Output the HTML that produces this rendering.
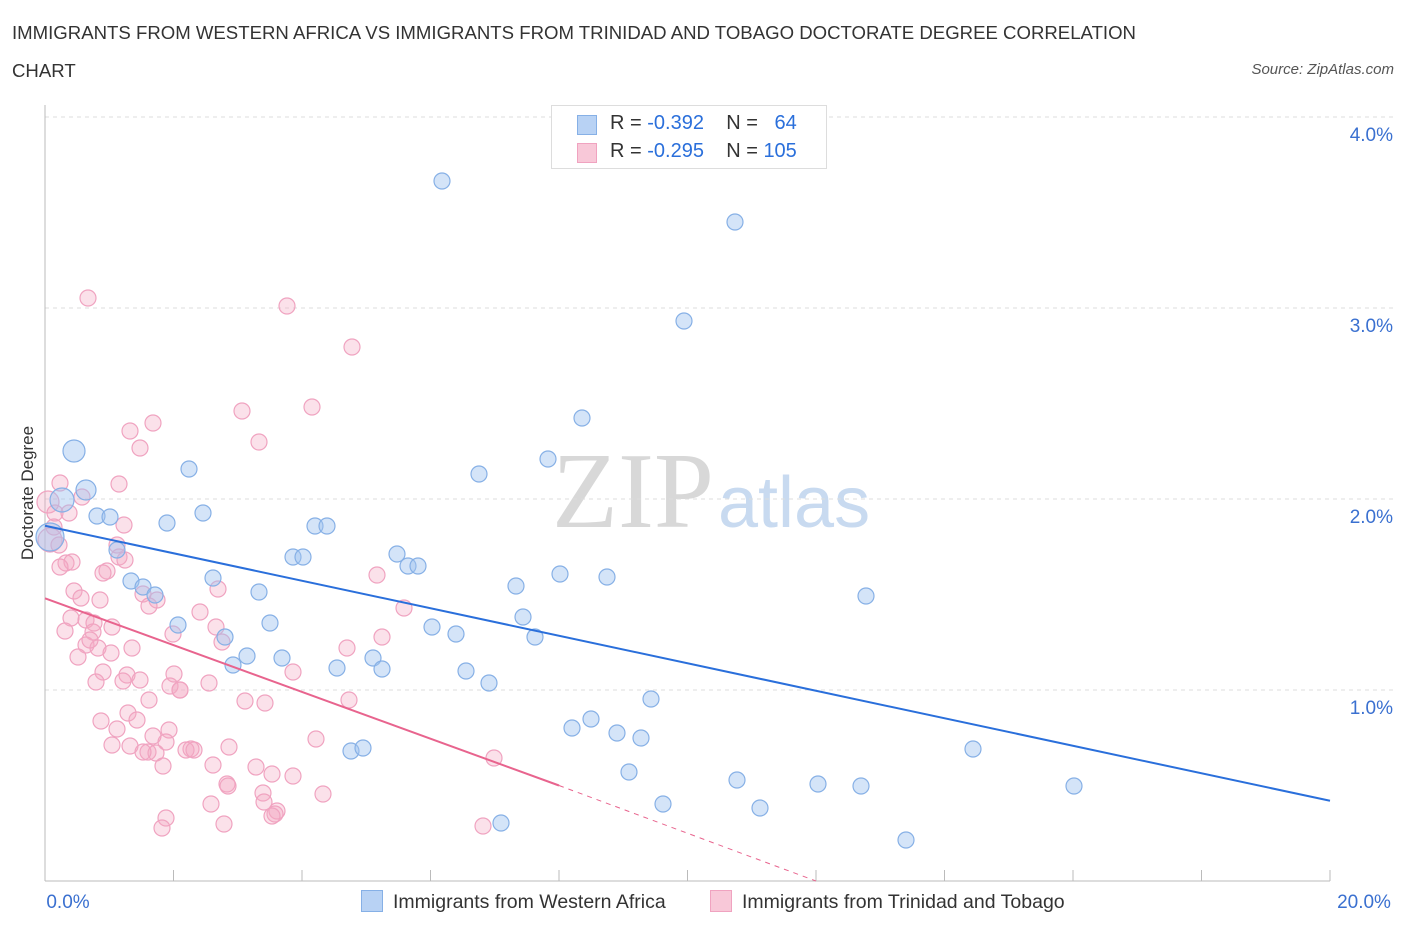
<!DOCTYPE html>
<html><head><meta charset="utf-8"><style>
body{margin:0;background:#fff;font-family:"Liberation Sans",sans-serif;}
#c{position:relative;width:1406px;height:930px;overflow:hidden;}
.t{position:absolute;white-space:nowrap;}
</style></head><body>
<div id="c">
<div class="t" style="left:12px;top:14px;font-size:18.6px;color:#333;line-height:38px;">IMMIGRANTS FROM WESTERN AFRICA VS IMMIGRANTS FROM TRINIDAD AND TOBAGO DOCTORATE DEGREE CORRELATION<br>CHART</div>
<div class="t" style="right:12px;top:61px;font-size:15px;color:#555;font-style:italic;">Source: ZipAtlas.com</div>
<svg id="s" width="1406" height="930" style="position:absolute;left:0;top:0"></svg>
</div>
<script>
const blueXpx=[442,735,684,582,74,548,189,479,86,62,203,97,110,167,315,327,50,117,293,303,397,408,418,560,607,213,131,143,155,259,866,516,523,178,270,432,225,456,535,247,233,282,373,337,382,466,489,651,591,572,617,641,351,363,973,629,737,818,861,1074,663,760,501,906];
const blueYpx=[181,222,321,418,451,459,469,474,490,500,513,516,517,523,526,526,537,550,557,557,554,566,566,574,577,578,581,587,595,592,596,586,617,625,623,627,637,634,637,656,665,658,658,668,669,671,683,699,719,728,733,738,751,748,749,772,780,784,786,786,804,808,823,840];
const blueX=blueXpx.map(p=>(p-45)/64.25);
const blueY=blueYpx.map(p=>(881-p)/191);
const blueR=[8,8,8,8,11,8,8,8,10,12,8,8,8,8,8,8,14];
const pinkXpx=[88,287,352,312,242,153,130,140,259,60,119,82,48,55,69,124,54,50,59,117,119,66,72,60,107,103,377,218,74,81,143,157,149,404,200,71,86,94,112,65,93,173,216,382,222,86,98,132,347,111,78,293,174,103,127,123,96,209,170,180,149,245,265,349,128,101,137,169,117,153,316,166,191,148,112,130,229,156,143,186,194,163,213,256,494,272,293,227,228,263,323,211,264,277,166,275,272,162,224,483,90,100,125,180,140];
const pinkYpx=[298,306,347,407,411,423,431,448,442,483,484,497,502,513,513,525,527,540,545,545,557,563,562,567,571,573,575,589,591,598,594,600,606,608,612,618,620,623,627,631,632,634,627,637,642,645,648,648,648,653,657,672,674,672,675,681,682,683,686,690,700,701,703,700,713,721,720,730,729,736,739,742,749,752,745,746,747,753,752,750,750,766,765,767,758,774,776,784,786,793,794,804,802,811,818,814,816,828,824,826,640,600,560,690,680];
const pinkX=pinkXpx.map(p=>(p-45)/64.25);
const pinkY=pinkYpx.map(p=>(881-p)/191);
const pinkR=[8,8,8,8,8,8,8,8,8,8,8,8,11,8,8,8,8,12];
const xTicks=[0,2,4,6,8,10,12,14,16,18,20];
const yTicks=[1,2,3,4];
const blueLine=[[0,1.86],[20,0.42]];
const pinkLine=[[0,1.48],[8,0.50]];
const pinkDash=[[8,0.50],[12,0]];
const X=v=>45+v*64.25, Y=v=>881-v*191;
const s=document.getElementById('s'),NS='http://www.w3.org/2000/svg';
function mk(t,a,p){const e=document.createElementNS(NS,t);for(const k in a)e.setAttribute(k,a[k]);(p||s).appendChild(e);return e;}
let w=mk('text',{x:633,y:527,'font-size':108,'font-family':'Liberation Serif',fill:'#d8d8d8','text-anchor':'middle'});w.textContent='ZIP';


let w2=mk('text',{x:718,y:527,'font-size':72,'font-family':'Liberation Sans',fill:'#c8daf0'});w2.textContent='atlas';


yTicks.forEach(v=>{const g=mk('line',{x1:45,x2:1395,y1:Y(v),y2:Y(v),stroke:'#ddd','stroke-dasharray':'4,4'});


const t=mk('text',{x:1393,y:Y(v)+24,'font-size':19,fill:'#3a70d0','text-anchor':'end'});t.textContent=v.toFixed(1)+'%';

});
mk('line',{x1:45,x2:45,y1:105,y2:881,stroke:'#bbb'});
mk('line',{x1:45,x2:1330,y1:881,y2:881,stroke:'#bbb'});
xTicks.forEach(v=>{const l=mk('line',{x1:X(v),x2:X(v),y1:881,y2:870,stroke:'#bbb'});

});
[[0,'0.0%',68],[20,'20.0%',1364]].forEach(a=>{const t=mk('text',{x:a[2],y:908,'font-size':19,fill:'#3a70d0','text-anchor':'middle'});t.textContent=a[1];

});
const yt=mk('text',{x:0,y:0,'font-size':17,fill:'#333','text-anchor':'middle',transform:'translate(33,493) rotate(-90)'});yt.textContent='Doctorate Degree';


pinkX.forEach((v,i)=>{const c=mk('circle',{cx:X(v),cy:Y(pinkY[i]),r:pinkR[i]||8,fill:'rgba(244,170,196,0.35)',stroke:'#f0a3c0','stroke-width':1.2});

});
blueX.forEach((v,i)=>{const c=mk('circle',{cx:X(v),cy:Y(blueY[i]),r:blueR[i]||8,fill:'rgba(160,196,240,0.45)',stroke:'#86b0e6','stroke-width':1.2});

});
const bl=mk('line',{x1:X(blueLine[0][0]),y1:Y(blueLine[0][1]),x2:X(blueLine[1][0]),y2:Y(blueLine[1][1]),stroke:'#2a6fdb','stroke-width':2});


const pl=mk('line',{x1:X(pinkLine[0][0]),y1:Y(pinkLine[0][1]),x2:X(pinkLine[1][0]),y2:Y(pinkLine[1][1]),stroke:'#e8648e','stroke-width':2});


const pd=mk('line',{x1:X(pinkDash[0][0]),y1:Y(pinkDash[0][1]),x2:X(pinkDash[1][0]),y2:Y(pinkDash[1][1]),stroke:'#e8648e','stroke-width':1,'stroke-dasharray':'5,5'});


</script>
<div class="t" style="left:551px;top:105px;width:274px;height:62px;border:1px solid #ddd;background:#fff;font-size:20px;">
 <div style="position:absolute;left:25px;top:9px;width:18px;height:18px;background:#b8d2f4;border:1px solid #86b0e6"></div>
 <div class="t" style="left:58px;top:6px;color:#333">R = <span style="color:#2a6fdb">-0.392</span>&nbsp;&nbsp;&nbsp; N = &nbsp;&nbsp;<span style="color:#2a6fdb">64</span></div>
 <div style="position:absolute;left:25px;top:37px;width:18px;height:18px;background:#f8c8d8;border:1px solid #f0a3c0"></div>
 <div class="t" style="left:58px;top:34px;color:#333">R = <span style="color:#2a6fdb">-0.295</span>&nbsp;&nbsp;&nbsp; N = <span style="color:#2a6fdb">105</span></div>
</div>
<div class="t" style="left:361px;top:890px;font-size:19.5px;color:#333;">
 <span style="display:inline-block;width:20px;height:20px;background:#b8d2f4;border:1px solid #86b0e6;vertical-align:-4px;margin-right:10px"></span>Immigrants from Western Africa</div>
<div class="t" style="left:710px;top:890px;font-size:19.5px;color:#333;">
 <span style="display:inline-block;width:20px;height:20px;background:#f8c8d8;border:1px solid #f0a3c0;vertical-align:-4px;margin-right:10px"></span>Immigrants from Trinidad and Tobago</div>
</body></html>
